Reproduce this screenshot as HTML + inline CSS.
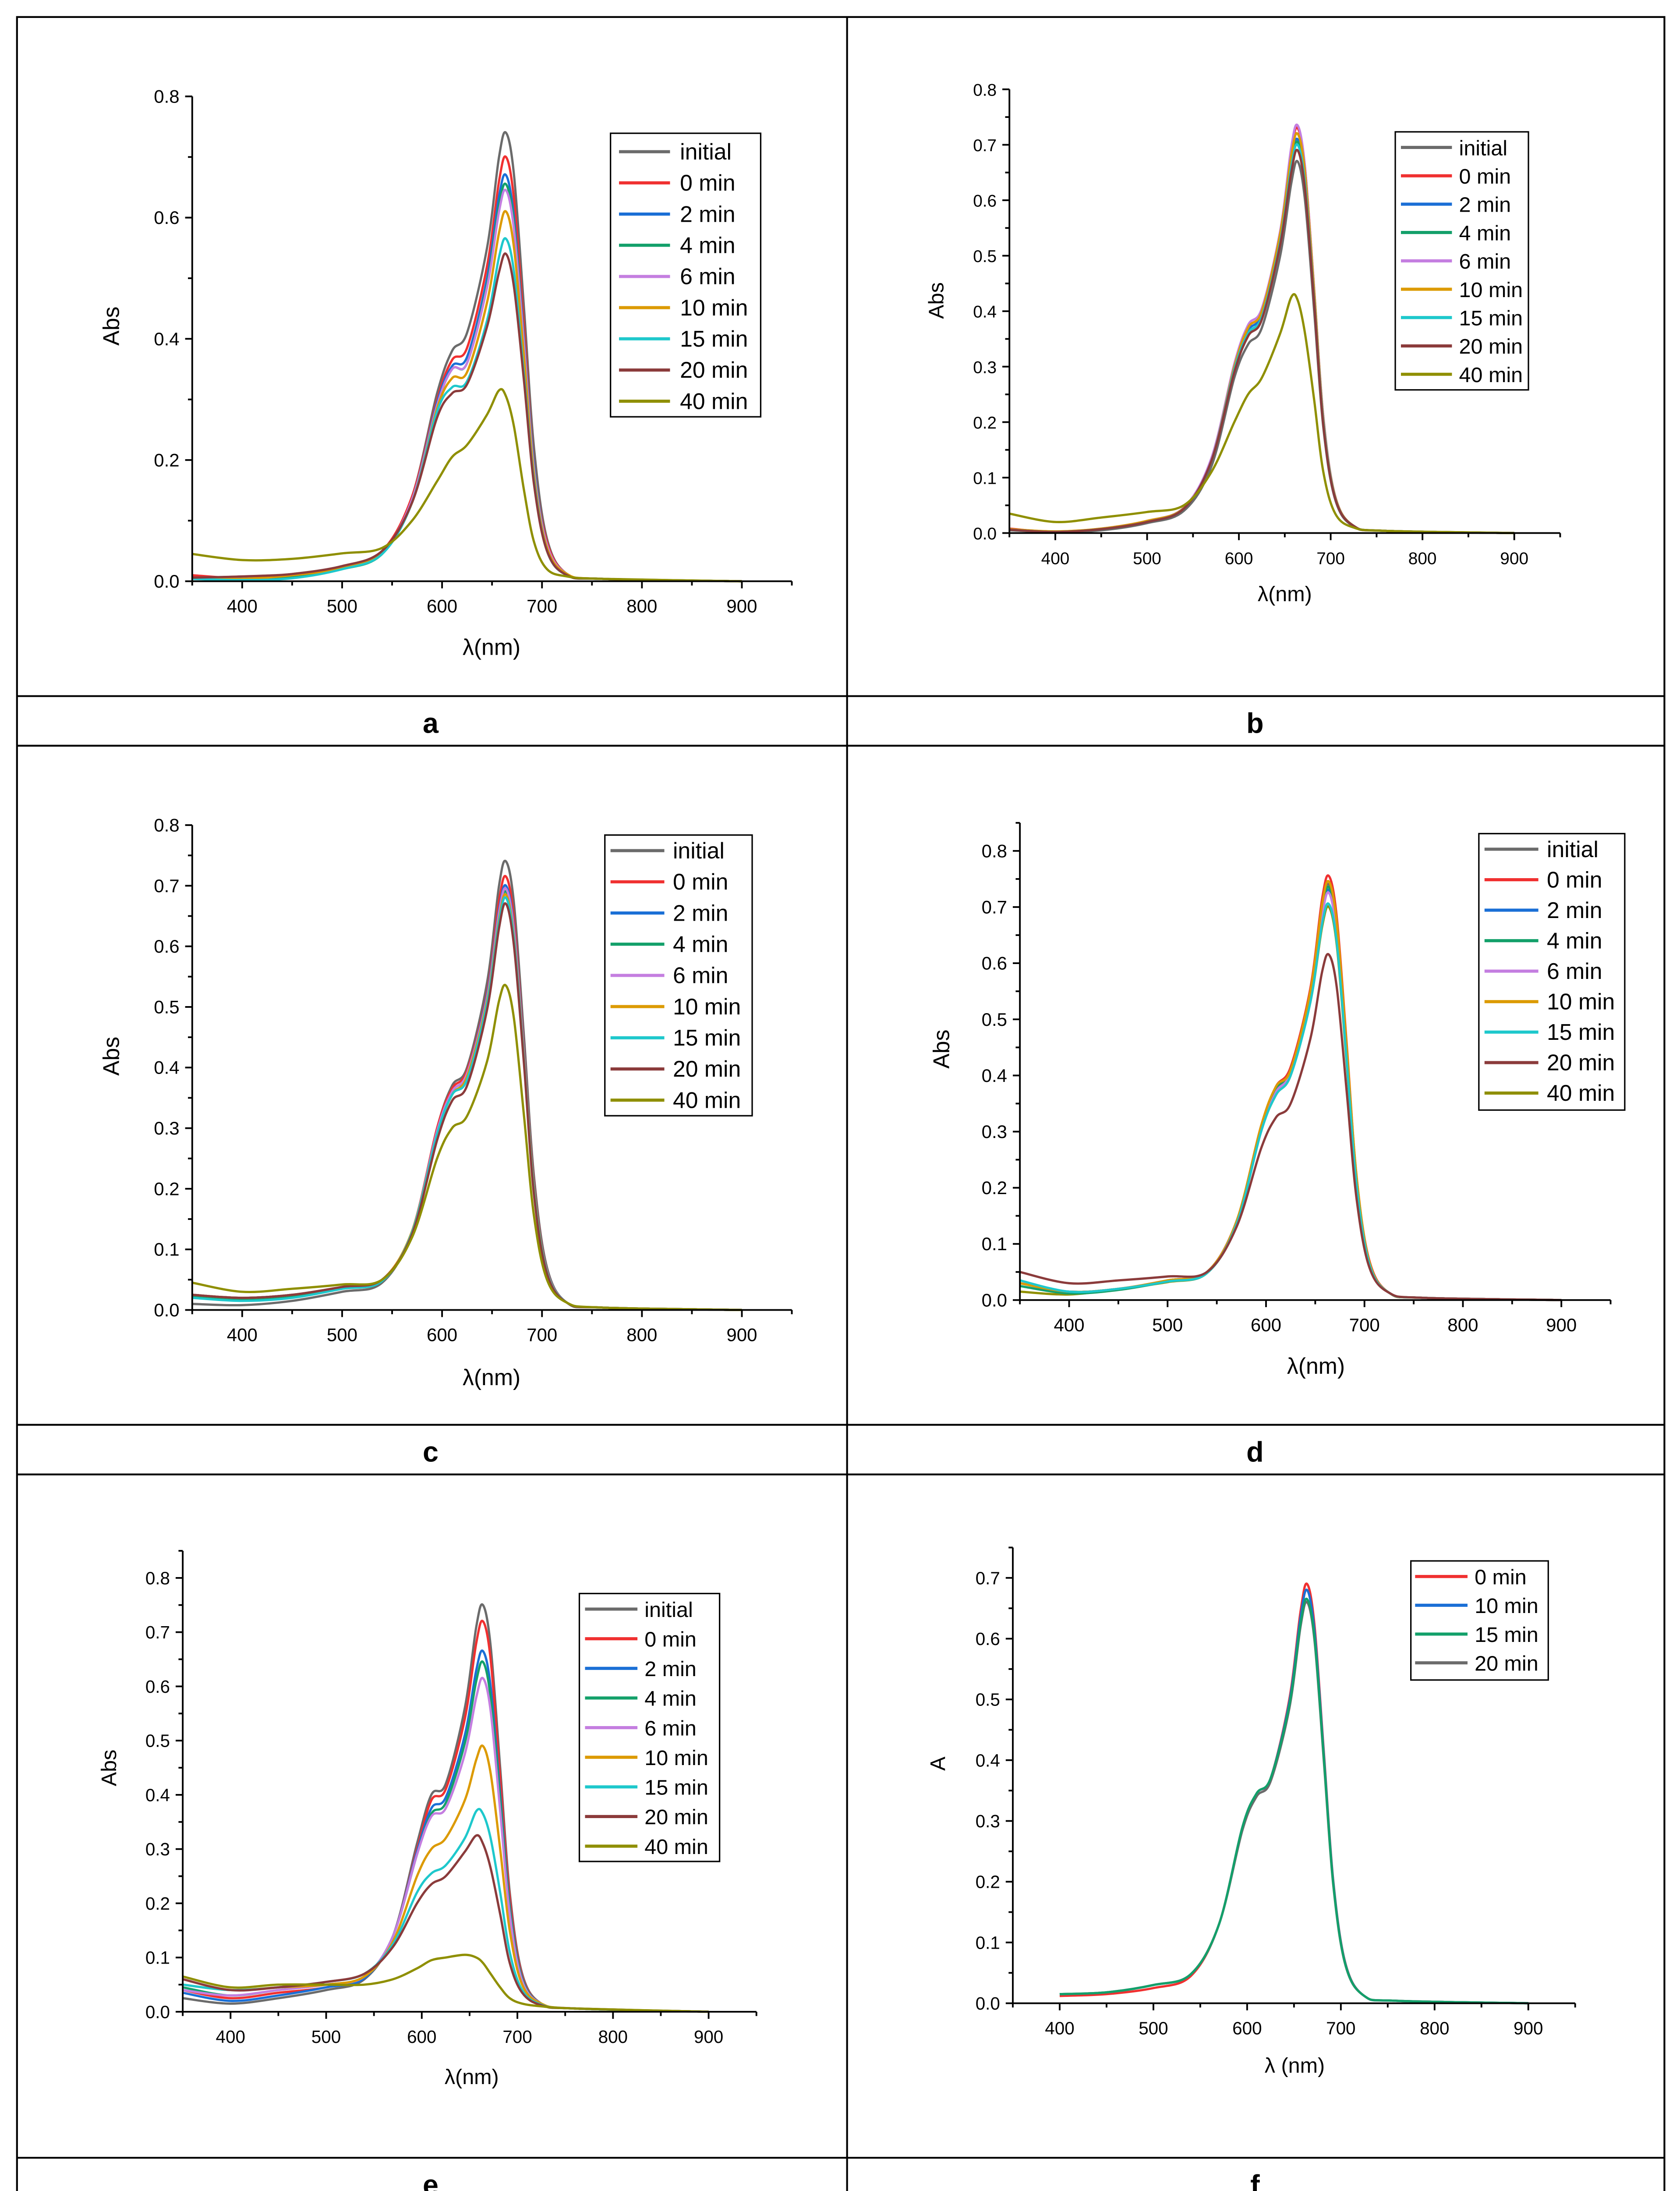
<!DOCTYPE html>
<html><head><meta charset="utf-8"><style>
html,body{margin:0;padding:0;background:#fff;width:3835px;height:5073px;overflow:hidden;}
svg{display:block;position:absolute;left:0;top:0;}
text{font-family:"Liberation Sans",sans-serif;fill:#000;}
</style></head><body>
<svg id="fig" xmlns="http://www.w3.org/2000/svg" width="3835" height="5073" viewBox="0 0 1186 1568" preserveAspectRatio="none">
<rect x="0" y="0" width="1186" height="1568" fill="#fff"/>
<g stroke="#000" stroke-width="1.3" fill="none">
<rect x="12" y="12" width="1163" height="1545"/>
<line x1="598" y1="12" x2="598" y2="1557"/>
<line x1="12" y1="491" x2="1175" y2="491"/><line x1="12" y1="526" x2="1175" y2="526"/>
<line x1="12" y1="1005" x2="1175" y2="1005"/><line x1="12" y1="1040" x2="1175" y2="1040"/>
<line x1="12" y1="1522" x2="1175" y2="1522"/>
</g>
<g font-weight="bold" font-size="20" text-anchor="middle">
<text x="304" y="517">a</text>
<text x="886" y="517">b</text>
<text x="304" y="1031">c</text>
<text x="886" y="1031">d</text>
<text x="304" y="1548">e</text>
<text x="886" y="1548">f</text>
</g>
</svg>
<script>
const wl = [350,400,450,500,540,570,595,610,625,645,657,664,672,682,692,705,725,760,900];
const wlF = [400,450,500,540,570,595,610,625,645,657,664,672,682,692,705,725,760,900];
const labels9 = ["initial","0 min","2 min","4 min","6 min","10 min","15 min","20 min","40 min"];
const colors9 = ["#6b6b6b","#f03030","#1a6fd6","#13a06a","#c47ee0","#dc9a00","#1ec8cc","#8b3b3b","#8f8f00"];
const labelsF = ["0 min","10 min","15 min","20 min"];
const colorsF = ["#f03030","#1a6fd6","#13a06a","#6b6b6b"];

const seriesA = [
[.008,.006,.012,.025,.05,.14,.31,.38,.41,.55,.70,.74,.67,.45,.22,.07,.012,.004,0],
[.01,.005,.01,.025,.05,.14,.30,.365,.385,.52,.66,.70,.63,.42,.20,.065,.012,.004,0],
[.005,.005,.01,.022,.048,.135,.295,.355,.37,.50,.635,.67,.60,.40,.195,.06,.012,.004,0],
[.005,.004,.008,.02,.045,.135,.29,.35,.36,.49,.62,.655,.59,.395,.19,.06,.012,.004,0],
[.005,.004,.01,.022,.047,.135,.29,.35,.36,.485,.61,.645,.58,.39,.185,.06,.012,.004,0],
[.005,.004,.01,.022,.047,.13,.285,.335,.345,.46,.575,.61,.55,.37,.175,.055,.012,.004,0],
[.004,.002,.005,.02,.045,.13,.28,.32,.33,.43,.535,.565,.51,.34,.165,.05,.01,.004,0],
[.006,.008,.012,.025,.05,.13,.27,.31,.325,.42,.51,.54,.485,.33,.16,.05,.01,.004,0],
[.045,.035,.037,.046,.055,.10,.165,.205,.225,.275,.315,.305,.255,.15,.065,.02,.008,.004,0]];
const seriesB = [
[.005,.002,.005,.018,.04,.12,.28,.34,.37,.50,.63,.67,.60,.40,.19,.06,.012,.004,0],
[.008,.002,.008,.022,.045,.13,.30,.37,.40,.54,.69,.73,.66,.44,.21,.066,.013,.004,0],
[.006,.002,.007,.02,.044,.13,.30,.365,.395,.53,.67,.71,.64,.43,.205,.064,.013,.004,0],
[.006,.002,.007,.02,.044,.13,.295,.36,.39,.53,.665,.705,.635,.425,.2,.063,.013,.004,0],
[.007,.003,.008,.022,.046,.135,.305,.375,.405,.545,.695,.735,.66,.44,.21,.066,.013,.004,0],
[.007,.003,.008,.022,.045,.13,.30,.37,.40,.54,.68,.72,.65,.435,.205,.065,.013,.004,0],
[.006,.002,.007,.02,.044,.13,.295,.36,.39,.525,.66,.70,.63,.42,.20,.063,.013,.004,0],
[.006,.002,.007,.02,.044,.13,.29,.355,.385,.52,.65,.69,.62,.415,.195,.062,.013,.004,0],
[.035,.02,.028,.038,.05,.11,.20,.25,.28,.36,.425,.42,.36,.24,.11,.035,.01,.004,0]];
const seriesC = [
[.01,.008,.015,.03,.045,.13,.30,.37,.40,.54,.70,.74,.67,.45,.22,.07,.012,.004,0],
[.025,.02,.025,.038,.05,.13,.30,.365,.395,.525,.675,.715,.645,.43,.21,.066,.012,.004,0],
[.025,.02,.025,.038,.05,.13,.295,.36,.39,.52,.66,.70,.63,.425,.205,.065,.012,.004,0],
[.022,.018,.022,.035,.048,.128,.29,.355,.385,.51,.65,.69,.62,.42,.2,.064,.012,.004,0],
[.025,.02,.025,.038,.05,.13,.295,.36,.39,.515,.655,.695,.625,.42,.2,.064,.012,.004,0],
[.025,.02,.025,.038,.05,.13,.29,.355,.385,.51,.645,.685,.615,.415,.2,.063,.012,.004,0],
[.02,.015,.02,.035,.048,.128,.29,.355,.38,.505,.64,.68,.61,.41,.195,.062,.012,.004,0],
[.025,.02,.025,.038,.05,.125,.28,.345,.37,.495,.63,.67,.60,.405,.19,.06,.012,.004,0],
[.045,.03,.035,.042,.05,.12,.25,.30,.32,.41,.51,.535,.48,.32,.155,.05,.012,.004,0]];
const seriesD = [
[.03,.015,.02,.035,.05,.14,.31,.375,.41,.545,.70,.74,.665,.445,.215,.068,.013,.004,0],
[.03,.015,.02,.035,.05,.14,.31,.38,.415,.555,.715,.755,.68,.455,.22,.07,.013,.004,0],
[.03,.015,.02,.035,.05,.14,.305,.375,.41,.545,.69,.73,.655,.44,.215,.067,.013,.004,0],
[.025,.012,.018,.033,.048,.14,.305,.375,.41,.545,.695,.735,.66,.445,.215,.067,.013,.004,0],
[.03,.015,.02,.035,.05,.14,.30,.37,.405,.54,.685,.725,.65,.44,.21,.066,.013,.004,0],
[.03,.015,.02,.035,.05,.14,.31,.38,.41,.55,.705,.745,.67,.45,.22,.068,.013,.004,0],
[.035,.015,.02,.033,.048,.135,.30,.365,.40,.53,.67,.705,.635,.425,.205,.064,.013,.004,0],
[.05,.03,.035,.042,.05,.13,.27,.325,.35,.465,.585,.615,.555,.37,.18,.058,.013,.004,0],
[.015,.01,.02,.032,.048,.135,.30,.365,.40,.53,.665,.70,.63,.42,.205,.064,.013,.004,0]];
const seriesE = [
[.025,.015,.025,.04,.06,.14,.31,.40,.42,.56,.71,.75,.675,.45,.22,.07,.015,.006,0],
[.04,.025,.035,.045,.065,.14,.30,.39,.41,.54,.68,.72,.65,.43,.21,.066,.015,.006,0],
[.035,.02,.03,.045,.062,.14,.295,.375,.395,.51,.63,.665,.60,.40,.195,.062,.015,.006,0],
[.045,.03,.04,.05,.065,.14,.29,.365,.385,.495,.61,.645,.58,.39,.19,.06,.015,.006,0],
[.04,.03,.04,.05,.065,.14,.29,.36,.375,.475,.58,.615,.555,.37,.18,.057,.015,.006,0],
[.05,.04,.045,.05,.065,.13,.25,.30,.32,.39,.465,.49,.44,.30,.15,.05,.015,.006,0],
[.05,.04,.045,.055,.07,.125,.22,.255,.27,.32,.37,.365,.32,.22,.11,.04,.013,.006,0],
[.06,.04,.045,.055,.07,.12,.20,.235,.25,.295,.325,.31,.265,.18,.09,.035,.012,.006,0],
[.065,.045,.05,.05,.05,.06,.08,.095,.10,.105,.10,.09,.07,.045,.025,.015,.01,.006,0]];
const seriesF = [
[.012,.015,.025,.045,.13,.29,.345,.37,.50,.645,.69,.62,.41,.20,.065,.012,.004,0],
[.015,.018,.03,.048,.13,.29,.345,.37,.495,.635,.68,.61,.405,.198,.064,.012,.004,0],
[.015,.018,.03,.048,.13,.29,.345,.37,.49,.625,.665,.60,.40,.195,.063,.012,.004,0],
[.015,.018,.03,.048,.13,.285,.34,.365,.485,.62,.66,.595,.395,.193,.062,.012,.004,0]];
const xTicks = [400,500,600,700,800,900];

const NS="http://www.w3.org/2000/svg";
const svg=document.getElementById('fig');
function mk(tag,attrs,parent){const e=document.createElementNS(NS,tag);for(const k in attrs)e.setAttribute(k,attrs[k]);(parent||svg).appendChild(e);return e;}

const panels=[
{id:'a',x0:135.7,x1:559,y0:410,ppu:427.5,ymax:0.8,step:0.2,dec:1,xl:[347,462],yl:[84,230],yt:'Abs',xt:'λ(nm)',wl:wl,ser:seriesA,lab:labels9,col:colors9,
 lg:{x:431,y:94,w:106,h:200,fy:107,dy:22,lx1:437,lx2:473,tx:480,fs:16},fs:13,ts:16},
{id:'b',x0:712.6,x1:1101.4,y0:376,ppu:391.25,ymax:0.8,step:0.1,dec:1,xl:[907,424],yl:[666,212],yt:'Abs',xt:'λ(nm)',wl:wl,ser:seriesB,lab:labels9,col:colors9,
 lg:{x:985,y:93,w:94,h:182,fy:104,dy:20,lx1:989,lx2:1025,tx:1030,fs:15},fs:12,ts:15},
{id:'c',x0:135.7,x1:559,y0:924,ppu:427.5,ymax:0.8,step:0.1,dec:1,xl:[347,977],yl:[84,745],yt:'Abs',xt:'λ(nm)',wl:wl,ser:seriesC,lab:labels9,col:colors9,
 lg:{x:427,y:589,w:104,h:198,fy:600,dy:22,lx1:431,lx2:469,tx:475,fs:16},fs:13,ts:16},
{id:'d',x0:720,x1:1137,y0:917,ppu:396,ymax:0.85,step:0.1,dec:1,xl:[929,969],yl:[670,740],yt:'Abs',xt:'λ(nm)',wl:wl,ser:seriesD,lab:labels9,col:colors9,
 lg:{x:1044,y:588,w:103,h:195,fy:599,dy:21.5,lx1:1048,lx2:1086,tx:1092,fs:16},fs:13,ts:16},
{id:'e',x0:129,x1:534,y0:1419,ppu:382.5,ymax:0.85,step:0.1,dec:1,xl:[333,1470],yl:[82,1247],yt:'Abs',xt:'λ(nm)',wl:wl,ser:seriesE,lab:labels9,col:colors9,
 lg:{x:409,y:1124,w:99,h:189,fy:1135,dy:20.9,lx1:413,lx2:450,tx:455,fs:15},fs:12.5,ts:15},
{id:'f',x0:715,x1:1112,y0:1413,ppu:428.6,ymax:0.75,step:0.1,dec:1,xl:[914,1462],yl:[667,1244],yt:'A',xt:'λ (nm)',wl:wlF,ser:seriesF,lab:labelsF,col:colorsF,
 lg:{x:996,y:1101,w:97,h:84,fy:1112,dy:20.3,lx1:999,lx2:1036,tx:1041,fs:15},fs:12.5,ts:15}
];

function smoothPath(pts){
 let d='M'+pts[0][0].toFixed(2)+','+pts[0][1].toFixed(2);
 for(let i=0;i<pts.length-1;i++){
  const p0=pts[Math.max(0,i-1)],p1=pts[i],p2=pts[i+1],p3=pts[Math.min(pts.length-1,i+2)];
  const c1=[p1[0]+(p2[0]-p0[0])/6,p1[1]+(p2[1]-p0[1])/6];
  const c2=[p2[0]-(p3[0]-p1[0])/6,p2[1]-(p3[1]-p1[1])/6];
  d+='C'+c1[0].toFixed(2)+','+c1[1].toFixed(2)+' '+c2[0].toFixed(2)+','+c2[1].toFixed(2)+' '+p2[0].toFixed(2)+','+p2[1].toFixed(2);
 }
 return d;
}

panels.forEach(p=>{
 const g=mk('g',{});
 
 
 const sx=w=>p.x0+(w-350)*(p.x1-p.x0)/600;
 const sy=v=>p.y0-v*p.ppu;
 const sg=mk('g',{fill:'none','stroke-width':1.6,'stroke-linejoin':'round'},g);
 let order=p.ser.map((_,i)=>i);
 if(p.id==='f') order=[0,1,3,2];
 if(p.id==='d') order=[8,0,1,2,3,4,5,6,7];
 order.forEach(i=>{
  const pts=p.wl.map((w,k)=>[sx(w),sy(p.ser[i][k])]);
  const path=mk('path',{d:smoothPath(pts),stroke:p.col[i]},sg);
  
  
 });
 const ax=mk('g',{stroke:'#000','stroke-width':1.2,fill:'none'},g);
 const yTopPx=sy(p.ymax);
 const yAxis=mk('line',{x1:p.x0,y1:p.y0,x2:p.x0,y2:yTopPx},ax);
 
 
 const xAxis=mk('line',{x1:p.x0,y1:p.y0,x2:p.x1,y2:p.y0},ax);
 
 
 for(let w=350;w<=950;w+=50){
  const major=xTicks.indexOf(w)>=0;
  mk('line',{x1:sx(w),y1:p.y0,x2:sx(w),y2:p.y0+(major?5:3)},ax);
 }
 xTicks.forEach(w=>{
  const t=mk('text',{x:sx(w),y:p.y0+22,'font-size':p.fs,'text-anchor':'middle'},g);
  t.textContent=w;
  
  
 });
 const nMinor=Math.round(p.ymax/(p.step/2)+1e-6);
 for(let k=0;k<=nMinor;k++){
  const v=k*p.step/2;
  const major=k%2===0;
  mk('line',{x1:p.x0,y1:sy(v),x2:p.x0-(major?5:3),y2:sy(v)},ax);
  if(major){
   const t=mk('text',{x:p.x0-9,y:sy(v)+4.5,'font-size':p.fs,'text-anchor':'end'},g);
   t.textContent=v.toFixed(p.dec);
   
   
  }
 }
 const xt=mk('text',{x:p.xl[0],y:p.xl[1],'font-size':p.ts,'text-anchor':'middle'},g);
 xt.textContent=p.xt;
 
 
 const yt=mk('text',{x:p.yl[0],y:p.yl[1],'font-size':p.ts,'text-anchor':'middle',transform:'rotate(-90 '+p.yl[0]+' '+p.yl[1]+')'},g);
 yt.textContent=p.yt;
 
 
 const L=p.lg;
 const lg=mk('g',{},g);
 
 
 mk('rect',{x:L.x,y:L.y,width:L.w,height:L.h,fill:'#fff',stroke:'#000','stroke-width':1},lg);
 p.lab.forEach((lab,i)=>{
  const y=L.fy+i*L.dy;
  const e=mk('g',{},lg);
  
  
  mk('line',{x1:L.lx1,y1:y,x2:L.lx2,y2:y,stroke:p.col[i],'stroke-width':2.2},e);
  const t=mk('text',{x:L.tx,y:y+5.5,'font-size':L.fs},e);
  t.textContent=lab;
 });
});
</script>
</body></html>
